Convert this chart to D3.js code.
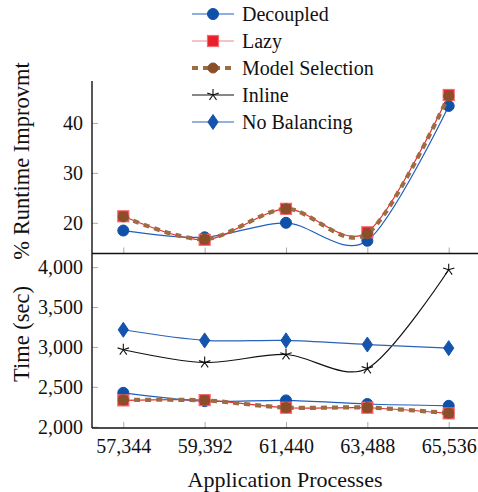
<!DOCTYPE html>
<head>
  <meta charset="utf-8">
  <style>
    body {margin: 0; background: #fff;}
    svg text {font-family: "Liberation Serif", "Times New Roman", serif;}
    .tick line {stroke: #aaa; stroke-width: 1;}
    .tick text {font-size: 20px; fill: #111; font-family: "Liberation Serif", serif;}
    .domain {stroke: none;}
  </style>
</head>
<body>
  <svg width="478" height="492"></svg>
  <script src="https://cdn.jsdelivr.net/npm/d3@7"></script>
  <script>
    // data
    var processes = [57344, 59392, 61440, 63488, 65536];
    var seriesNames = ["Decoupled", "Lazy", "Model Selection", "Inline", "No Balancing"];

    // top panel: % runtime improvement
    var impDecoupled = [18.45, 17.1, 20.0, 16.4, 43.4];
    var impLazy      = [21.3, 16.6, 22.8, 18.1, 45.6];
    var impModelSel  = [21.2, 16.7, 22.8, 17.8, 45.4];
    var impTicks = [20, 30, 40];

    // bottom panel: time (sec)
    var timeDecoupled = [2425, 2320, 2330, 2285, 2262];
    var timeLazy      = [2330, 2334, 2238, 2238, 2167];
    var timeModelSel  = [2335, 2330, 2240, 2240, 2170];
    var timeInline    = [2965, 2805, 2905, 2730, 3967];
    var timeNoBal     = [3215, 3082, 3082, 3030, 2985];
    var timeTicks = [2000, 2500, 3000, 3500, 4000];

    var svg = d3.select("svg");
    var left = 92, right = 480;
    var topY0 = 81, midY = 253.5, botY = 428;
    var serif = "Liberation Serif, Times New Roman, serif";

    var x = d3.scaleLinear().domain([56556, 66324]).range([left, right]);
    var yTop = d3.scaleLinear().domain([13.85, 48.4]).range([midY, topY0]);
    var yBot = d3.scaleLinear().domain([1984, 4171]).range([botY, midY]);

    var styles = {
      "Decoupled":       {line: "#1f5fbf", width: 1.2, dash: null, mark: "circle", fill: "#0f50a8", stroke: "#0f50a8", size: 5.5},
      "Lazy":            {line: "#f0282e", width: 1.2, dash: null, mark: "square", fill: "#e8202a", stroke: "#f26b6f", size: 5.5},
      "Model Selection": {line: "#9c6d42", width: 4.2, dash: "6,5", mark: "circle", fill: "#8a4f28", stroke: "#8a4f28", size: 5},
      "Inline":          {line: "#111", width: 1.2, dash: null, mark: "star", fill: "none", stroke: "#111", size: 6},
      "No Balancing":    {line: "#2a62b8", width: 1.2, dash: null, mark: "diamond", fill: "#1454ad", stroke: "#1454ad", size: 6}
    };

    var curve = d3.curveCardinal.tension(0.1);

    function drawMarker(g, name, cx, cy) {
      var s = styles[name], r = s.size;
      if (s.mark === "circle") {
        g.append("circle").attr("cx", cx).attr("cy", cy).attr("r", r)
          .attr("fill", s.fill).attr("stroke", s.stroke);
      } else if (s.mark === "square") {
        g.append("rect").attr("x", cx - r).attr("y", cy - r).attr("width", 2 * r).attr("height", 2 * r)
          .attr("fill", s.fill).attr("stroke", s.stroke).attr("stroke-width", 1.2);
      } else if (s.mark === "diamond") {
        g.append("path").attr("d", "M" + cx + "," + (cy - r * 1.25) + "L" + (cx + r * 0.85) + "," + cy +
            "L" + cx + "," + (cy + r * 1.25) + "L" + (cx - r * 0.85) + "," + cy + "Z")
          .attr("fill", s.fill).attr("stroke", s.stroke);
      } else if (s.mark === "star") {
        var d = "";
        for (var k = 0; k < 5; k++) {
          var a = -Math.PI / 2 + k * 2 * Math.PI / 5;
          d += "M" + cx + "," + cy + "L" + (cx + r * Math.cos(a)) + "," + (cy + r * Math.sin(a));
        }
        g.append("path").attr("d", d).attr("stroke", s.stroke).attr("stroke-width", 1.1).attr("fill", "none");
      }
    }

    function drawSeries(g, name, values, y) {
      var s = styles[name];
      var pts = processes.map(function(p, i) { return [x(p), y(values[i])]; });
      g.append("path")
        .attr("d", d3.line().curve(curve)(pts))
        .attr("fill", "none")
        .attr("stroke", s.line)
        .attr("stroke-width", s.width)
        .attr("stroke-dasharray", s.dash);
      pts.forEach(function(p) { drawMarker(g, name, p[0], p[1]); });
    }

    // clip path for the top panel
    var defs = svg.append("defs");
    defs.append("clipPath").attr("id", "clipTop").append("rect")
      .attr("x", left).attr("y", topY0).attr("width", right - left).attr("height", midY - topY0);

    // axes (ticks drawn inward, grey)
    svg.append("g").attr("transform", "translate(0," + midY + ")")
      .call(d3.axisTop(x).tickValues(processes).tickSize(6).tickFormat(""));
    svg.append("g").attr("transform", "translate(0," + botY + ")")
      .call(d3.axisTop(x).tickValues(processes).tickSize(6).tickFormat(""));
    svg.append("g").attr("transform", "translate(0," + botY + ")")
      .call(d3.axisBottom(x).tickValues(processes).tickSize(0).tickPadding(11).tickFormat(d3.format(",")));

    svg.append("g").attr("transform", "translate(" + left + ",0)")
      .call(d3.axisRight(yTop).tickValues(impTicks).tickSize(6).tickFormat(""));
    svg.append("g").attr("transform", "translate(" + left + ",0)")
      .call(d3.axisLeft(yTop).tickValues(impTicks).tickSize(0).tickPadding(9));

    svg.append("g").attr("transform", "translate(" + left + ",0)")
      .call(d3.axisRight(yBot).tickValues(timeTicks).tickSize(6).tickFormat(""));
    svg.append("g").attr("transform", "translate(" + left + ",0)")
      .call(d3.axisLeft(yBot).tickValues(timeTicks).tickSize(0).tickPadding(9).tickFormat(d3.format(",")));

    svg.selectAll(".tick text").attr("font-family", serif);

    // series
    var gTop = svg.append("g").attr("clip-path", "url(#clipTop)");
    drawSeries(gTop, "Decoupled", impDecoupled, yTop);
    drawSeries(gTop, "Lazy", impLazy, yTop);
    drawSeries(gTop, "Model Selection", impModelSel, yTop);

    var gBot = svg.append("g");
    drawSeries(gBot, "Decoupled", timeDecoupled, yBot);
    drawSeries(gBot, "Lazy", timeLazy, yBot);
    drawSeries(gBot, "Model Selection", timeModelSel, yBot);
    drawSeries(gBot, "Inline", timeInline, yBot);
    drawSeries(gBot, "No Balancing", timeNoBal, yBot);

    // frame lines
    svg.append("line").attr("x1", left).attr("x2", left).attr("y1", topY0).attr("y2", botY)
      .attr("stroke", "#111").attr("stroke-width", 1.4);
    svg.append("line").attr("x1", left).attr("x2", 478).attr("y1", midY).attr("y2", midY)
      .attr("stroke", "#111").attr("stroke-width", 1.4);
    svg.append("line").attr("x1", left).attr("x2", 478).attr("y1", botY).attr("y2", botY)
      .attr("stroke", "#111").attr("stroke-width", 1.4);

    // axis titles
    svg.append("text").attr("transform", "translate(29,161) rotate(-90)")
      .attr("text-anchor", "middle").attr("font-size", 22.5).attr("font-family", serif).attr("fill", "#111")
      .text("% Runtime Improvmt");
    svg.append("text").attr("transform", "translate(29,334) rotate(-90)")
      .attr("text-anchor", "middle").attr("font-size", 22.5).attr("font-family", serif).attr("fill", "#111")
      .text("Time (sec)");
    svg.append("text").attr("x", 285).attr("y", 487)
      .attr("text-anchor", "middle").attr("font-size", 22).attr("font-family", serif).attr("fill", "#111")
      .text("Application Processes");

    // legend
    var legend = svg.append("g");
    seriesNames.forEach(function(name, i) {
      var s = styles[name], ly = 14 + i * 27;
      var lg = legend.append("g");
      lg.append("line").attr("x1", 192).attr("x2", 234).attr("y1", ly).attr("y2", ly)
        .attr("stroke", name === "Lazy" ? "#f08a8c" : s.line)
        .attr("stroke-width", s.width).attr("stroke-dasharray", s.dash);
      drawMarker(lg, name, 213, ly);
      lg.append("text").attr("x", 242).attr("y", ly).attr("dy", "0.33em")
        .attr("font-size", 20).attr("font-family", serif).attr("fill", "#111").text(name);
    });
  </script>
</body>
